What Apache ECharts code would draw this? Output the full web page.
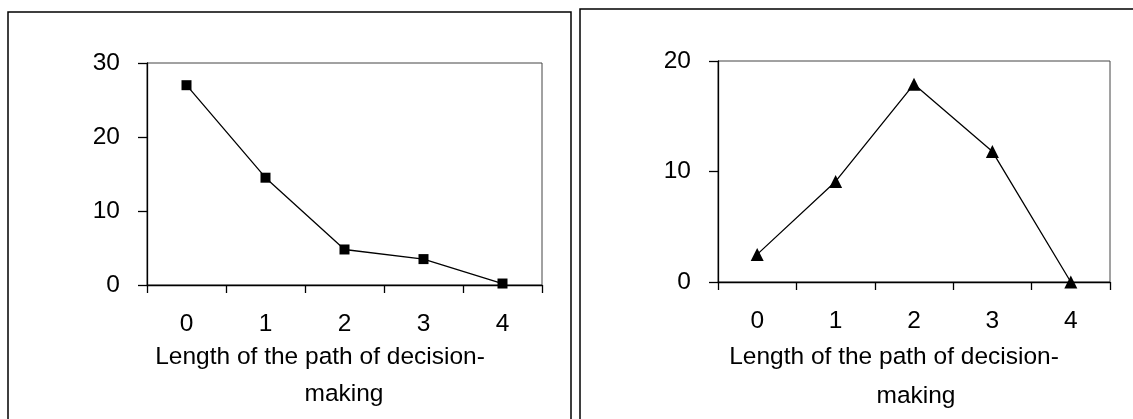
<!DOCTYPE html>
<html>
<head>
<meta charset="utf-8">
<script src="https://cdn.jsdelivr.net/npm/echarts@6/dist/echarts.min.js"></script>
<style>
html,body{margin:0;padding:0;background:#fff;}
#chart{width:1133px;height:419px;}
</style>
</head>
<body>
<div id="chart"></div>
<script>
var categories = ['0', '1', '2', '3', '4'];
var leftValues = [27, 14.5, 4.8, 3.5, 0.2];
var rightValues = [2.5, 9.1, 17.9, 11.8, 0];
var axisTitleLine1 = 'Length of the path of decision-';
var axisTitleLine2 = 'making';

var FONT = '"Liberation Sans", Arial, sans-serif';
var FS = 24.5;

function xAxisCfg(gi) {
  return {
    type: 'category', gridIndex: gi, data: categories, boundaryGap: true,
    axisLine: {show: true, lineStyle: {color: '#000', width: 1.3}},
    axisTick: {show: true, length: 8, lineStyle: {color: '#000', width: 1.3}},
    axisLabel: {color: '#000', fontFamily: FONT, fontSize: FS, margin: 27},
    splitLine: {show: false}
  };
}
function yAxisCfg(gi, max) {
  return {
    type: 'value', gridIndex: gi, min: 0, max: max, interval: 10,
    axisLine: {show: true, lineStyle: {color: '#000', width: 1.3}},
    axisTick: {show: true, length: 9, lineStyle: {color: '#000', width: 1.3}},
    axisLabel: {color: '#000', fontFamily: FONT, fontSize: FS, margin: 27},
    splitLine: {show: false}
  };
}

var chart = echarts.init(document.getElementById('chart'), null, {renderer: 'canvas'});
chart.setOption({
  animation: false,
  backgroundColor: '#fff',
  grid: [
    {left: 147, top: 63, width: 395, height: 222, show: true, borderColor: '#444', borderWidth: 1, backgroundColor: 'transparent'},
    {left: 718, top: 61, width: 392, height: 221, show: true, borderColor: '#444', borderWidth: 1, backgroundColor: 'transparent'}
  ],
  xAxis: [xAxisCfg(0), xAxisCfg(1)],
  yAxis: [yAxisCfg(0, 30), yAxisCfg(1, 20)],
  series: [
    {type: 'line', xAxisIndex: 0, yAxisIndex: 0, data: leftValues,
     symbol: 'rect', symbolSize: 10,
     lineStyle: {color: '#000', width: 1.3}, itemStyle: {color: '#000'}},
    {type: 'line', xAxisIndex: 1, yAxisIndex: 1, data: rightValues,
     symbol: 'triangle', symbolSize: 13,
     lineStyle: {color: '#000', width: 1.3}, itemStyle: {color: '#000'}}
  ],
  graphic: [
    {type: 'polyline', shape: {points: [[8, 419], [8, 12], [571, 12], [571, 419]]}, style: {stroke: '#000', lineWidth: 1.5, fill: null}},
    {type: 'polyline', shape: {points: [[580, 419], [580, 9], [1133, 9]]}, style: {stroke: '#000', lineWidth: 1.5, fill: null}},
    {type: 'text', x: 320, y: 357, style: {text: axisTitleLine1, font: FS + 'px ' + FONT, fill: '#000', textAlign: 'center', textVerticalAlign: 'middle'}},
    {type: 'text', x: 344, y: 394, style: {text: axisTitleLine2, font: FS + 'px ' + FONT, fill: '#000', textAlign: 'center', textVerticalAlign: 'middle'}},
    {type: 'text', x: 894, y: 357, style: {text: axisTitleLine1, font: FS + 'px ' + FONT, fill: '#000', textAlign: 'center', textVerticalAlign: 'middle'}},
    {type: 'text', x: 916, y: 396, style: {text: axisTitleLine2, font: FS + 'px ' + FONT, fill: '#000', textAlign: 'center', textVerticalAlign: 'middle'}}
  ]
});
</script>
</body>
</html>
